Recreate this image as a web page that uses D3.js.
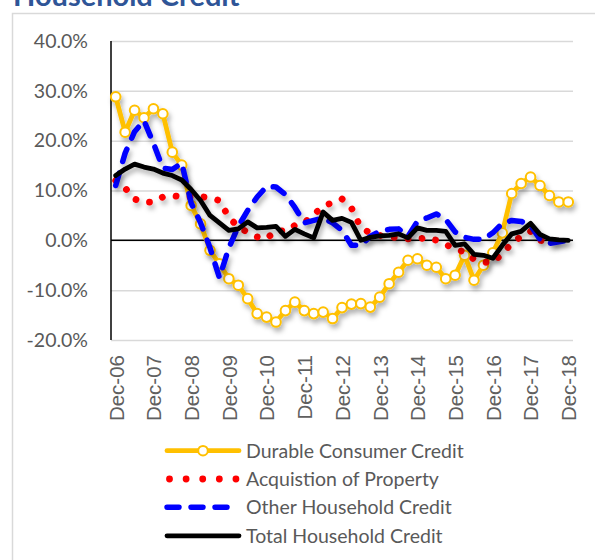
<!DOCTYPE html>
<html>

<head>
  <title>Household Credit</title>
  <script src="https://cdn.jsdelivr.net/npm/d3@7"></script>
  <style>
    body { margin: 0; background: #fff; }
  </style>
</head>

<body>
  <svg width="595" height="560" id="mainsvg"></svg>
  <script>
    // quarterly growth, Dec-06 .. Dec-18 (49 quarters)
    const tickLabels = ['Dec-06', 'Dec-07', 'Dec-08', 'Dec-09', 'Dec-10', 'Dec-11', 'Dec-12',
      'Dec-13', 'Dec-14', 'Dec-15', 'Dec-16', 'Dec-17', 'Dec-18'];
    const months = ['Dec', 'Mar', 'Jun', 'Sep'];

    const durable = [28.8, 21.7, 26.1, 24.6, 26.4, 25.4, 17.7, 15.1, 7.0, 3.3,
      -2.0, -4.7, -7.7, -9.0, -11.7, -14.7, -15.4, -16.4, -14.1, -12.4,
      -14.1, -14.7, -14.4, -15.7, -13.5, -12.8, -12.7, -13.4, -11.4, -8.7,
      -6.4, -4.0, -3.7, -5.0, -5.4, -7.7, -7.0, -3.0, -8.0, -5.0,
      -2.5, 1.5, 9.4, 11.4, 12.7, 11.0, 9.0, 7.7, 7.7];
    const property = [12.0, 10.5, 8.3, 7.6, 7.7, 8.7, 9.0, 8.7, 8.7, 8.8,
      8.5, 8.0, 4.6, 2.7, 1.6, 0.7, 0.3, 2.0, 1.8, 3.0,
      3.5, 5.2, 6.8, 7.6, 8.3, 6.5, 2.5, 1.5, 1.0, 0.6,
      0.6, 0.3, 0.2, 0.6, 0.0, -0.8, -1.8, -2.3, -3.8, -4.4,
      -4.4, -2.7, -0.6, 0.8, 1.8, 0.0, -0.3, 0.0, 0.0];
    const other = [11.0, 17.5, 21.8, 24.0, 19.5, 14.5, 14.2, 15.5, 7.5, 3.5,
      -1.5, -7.5, -1.5, 2.8, 6.0, 8.7, 10.8, 10.7, 9.2, 6.6,
      3.5, 4.0, 4.5, 3.5, 2.0, -1.0, -1.0, 0.8, 1.8, 2.2,
      2.3, 0.8, 3.8, 4.5, 5.3, 4.2, 1.7, 0.6, 0.2, 0.2,
      1.5, 3.4, 4.0, 3.8, 3.0, 0.2, -0.6, -0.3, 0.0];
    const total = [13.0, 14.3, 15.3, 14.7, 14.3, 13.5, 13.0, 12.1, 10.2, 8.0,
      5.0, 3.5, 2.0, 2.3, 3.7, 2.5, 2.6, 2.8, 0.8, 2.2,
      1.3, 0.5, 5.7, 4.0, 4.4, 3.6, 0.0, 0.6, 0.9, 1.0,
      1.3, 0.5, 2.5, 2.0, 2.0, 1.8, -1.0, -0.7, -2.8, -3.0,
      -3.6, -1.0, 1.3, 1.8, 3.4, 1.2, 0.3, 0.1, 0.0];
    const yTicks = [-20, -10, 0, 10, 20, 30, 40];

    const quarters = durable.map((d, i) => months[i % 4] + '-' +
      String(6 + Math.ceil(i / 4)).padStart(2, '0'));

    const series = [
      { name: 'Durable Consumer Credit', values: durable, color: '#FFC000', width: 4.8, dash: null, legendDash: null, marker: true },
      { name: 'Acquistion of Property', values: property, color: '#FF0000', width: 6.8, dash: '0.01,14', legendDash: '0.01,16.6' },
      { name: 'Other Household Credit', values: other, color: '#0000FF', width: 5.5, dash: '13,12', legendDash: '12,12' },
      { name: 'Total Household Credit', values: total, color: '#000000', width: 4.8, dash: null, legendDash: null }
    ];

    const svg = d3.select('#mainsvg');
    const plot = { left: 111, right: 573, top: 41, bottom: 340 };
    const textColor = '#595959';

    // drop shadow like the excel line effect
    const defs = svg.append('defs');
    defs.append('filter').attr('id', 'shadow')
      .attr('x', '-10%').attr('y', '-10%').attr('width', '130%').attr('height', '140%')
      .append('feDropShadow')
      .attr('dx', 2).attr('dy', 4).attr('stdDeviation', 2.6)
      .attr('flood-color', '#000').attr('flood-opacity', 0.3);

    // title (cut off at the top, as in the source) and outer frame
    svg.append('text')
      .attr('x', 13).attr('y', 6)
      .attr('font-family', 'Lato, sans-serif').attr('font-weight', 'bold')
      .attr('font-size', 29).attr('fill', '#2F5597')
      .text('Household Credit');
    svg.append('rect')
      .attr('x', 12.5).attr('y', 13.5).attr('width', 700).attr('height', 700)
      .attr('fill', 'none').attr('stroke', '#D9D9D9').attr('stroke-width', 1.5);

    const xScale = d3.scalePoint()
      .domain(quarters)
      .range([plot.left, plot.right])
      .padding(0.5);
    const yScale = d3.scaleLinear()
      .domain([-20, 40])
      .range([plot.bottom, plot.top]);

    // gridlines
    const grid = svg.append('g')
      .attr('transform', `translate(${plot.left},0)`)
      .call(d3.axisLeft(yScale).tickValues(yTicks).tickSize(-(plot.right - plot.left)).tickFormat(''));
    grid.select('.domain').remove();
    grid.selectAll('.tick line').attr('stroke', '#D9D9D9').attr('stroke-width', 1.5);

    // y axis labels
    const yAxis = svg.append('g')
      .attr('transform', `translate(${plot.left},0)`)
      .call(d3.axisLeft(yScale).tickValues(yTicks).tickSize(0).tickPadding(23)
        .tickFormat(d => d.toFixed(1) + '%'));
    yAxis.select('.domain').remove();
    yAxis.selectAll('.tick text')
      .attr('font-family', 'Lato, sans-serif').attr('font-size', 19.5).attr('fill', textColor);

    // x axis labels, rotated
    const xAxis = svg.append('g')
      .attr('transform', `translate(0,${plot.bottom})`)
      .call(d3.axisBottom(xScale).tickValues(quarters.filter((q, i) => i % 4 === 0)).tickSize(0));
    xAxis.select('.domain').remove();
    xAxis.selectAll('.tick text')
      .attr('font-family', '"Liberation Sans", Arial, sans-serif').attr('font-size', 20.5)
      .attr('fill', '#606060')
      .attr('transform', 'rotate(-90)')
      .attr('text-anchor', 'end')
      .attr('x', -15).attr('y', 0).attr('dy', '0.36em');

    // zero line and vertical axis
    svg.append('line')
      .attr('x1', plot.left).attr('x2', plot.right)
      .attr('y1', yScale(0)).attr('y2', yScale(0))
      .attr('stroke', '#000').attr('stroke-width', 1.5);
    svg.append('line')
      .attr('x1', plot.left).attr('x2', plot.left)
      .attr('y1', plot.top).attr('y2', plot.bottom)
      .attr('stroke', '#000').attr('stroke-width', 1.5);

    const line = d3.line()
      .x((d, i) => xScale(quarters[i]))
      .y(d => yScale(d));

    series.forEach(s => {
      const g = svg.append('g').attr('filter', 'url(#shadow)');
      g.append('path')
        .datum(s.values)
        .attr('d', line)
        .attr('fill', 'none')
        .attr('stroke', s.color)
        .attr('stroke-width', s.width)
        .attr('stroke-linecap', 'round')
        .attr('stroke-linejoin', 'round')
        .attr('stroke-dasharray', s.dash);
      if (s.marker) {
        g.selectAll('circle').data(s.values).join('circle')
          .attr('cx', (d, i) => xScale(quarters[i]))
          .attr('cy', d => yScale(d))
          .attr('r', 4.8)
          .attr('fill', '#fff')
          .attr('stroke', s.color)
          .attr('stroke-width', 2);
      }
    });

    // legend
    const legend = svg.append('g');
    const rowY = [450.7, 479, 507.3, 535.8];
    series.forEach((s, k) => {
      const row = legend.append('g').attr('transform', `translate(0,${rowY[k]})`);
      const dotted = s.legendDash && s.legendDash.startsWith('0.01');
      row.append('line')
        .attr('x1', dotted ? 169.5 : 167).attr('x2', dotted ? 237 : 239)
        .attr('y1', 0).attr('y2', 0)
        .attr('stroke', s.color)
        .attr('stroke-width', s.width)
        .attr('stroke-linecap', 'round')
        .attr('stroke-dasharray', s.legendDash);
      if (s.marker) {
        row.append('circle')
          .attr('cx', 203).attr('cy', 0).attr('r', 4.8)
          .attr('fill', '#fff').attr('stroke', s.color).attr('stroke-width', 2);
      }
      row.append('text')
        .attr('x', 246).attr('y', 0).attr('dy', '0.35em')
        .attr('font-family', 'Lato, sans-serif').attr('font-size', 19.5)
        .attr('fill', textColor)
        .text(s.name);
    });
  </script>
</body>

</html>
